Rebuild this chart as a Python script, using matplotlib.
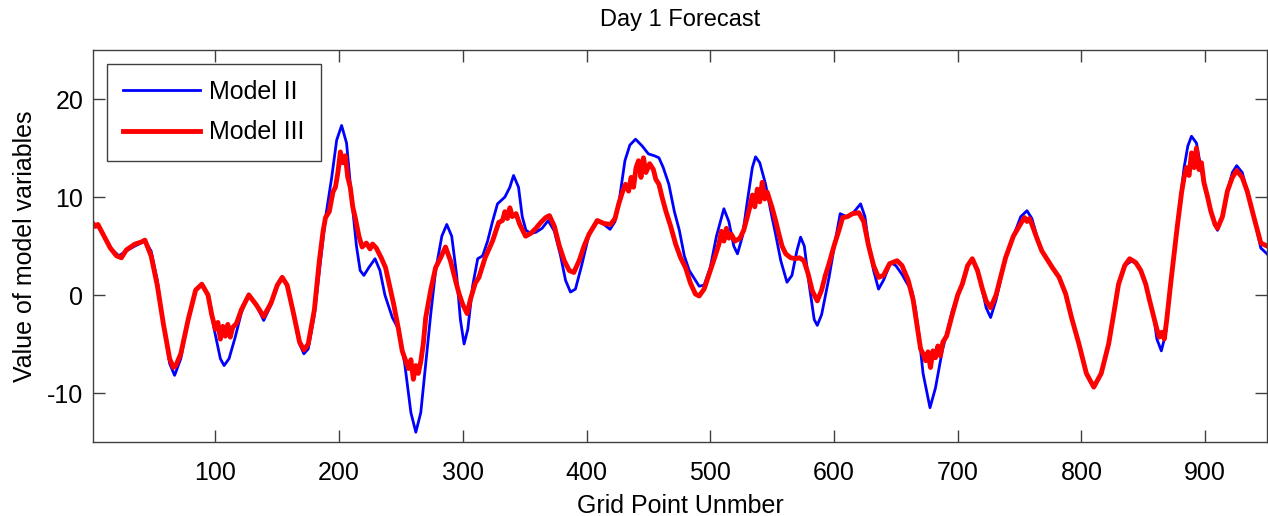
import matplotlib
matplotlib.use("Agg")
import matplotlib.pyplot as plt

plt.rcParams['font.family'] = ['Liberation Sans', 'DejaVu Sans']
plt.rcParams['axes.unicode_minus'] = False

# Model II (smooth)
x2 = [1, 5, 10, 15, 22, 28, 35, 43, 48, 53, 58, 63, 67, 72, 78, 84, 89, 94, 99, 104,
      107, 111, 116, 121, 127, 133, 139, 145, 150, 154, 158, 163, 168, 171.5, 175, 180,
      185, 189, 194, 198, 202, 206, 210, 214, 217, 220, 224, 229, 233, 237, 243, 248,
      253, 258, 262, 266, 270, 274, 278, 283, 287, 291, 295, 298, 301, 304, 308, 312,
      316, 320, 324, 328, 334, 338, 341, 345, 348, 351, 355, 359, 364, 369, 374, 379,
      383, 387, 391, 396, 402, 408, 414, 419, 423, 426, 431, 435, 439.6, 445, 450, 455,
      458.5, 462, 466.5, 471, 475, 479, 483, 488, 491, 495, 500, 505, 511, 515, 519,
      522, 526, 530, 534, 536.6, 540, 544.7, 549, 552.8, 557, 562, 566, 570, 573, 576,
      580, 584, 586.5, 590, 596, 601, 605, 610, 615, 621.5, 625, 628, 632, 636, 640,
      645.8, 650, 655, 659, 663, 666, 668.6, 672, 677.6, 682, 687.5, 692, 695.6, 700,
      703.7, 708, 711.8, 716, 720, 723, 726.6, 731, 738.7, 745, 751, 756, 760, 764,
      768, 776.5, 782, 787.3, 792, 798, 804, 810, 816, 822, 826, 830, 835, 841, 846,
      850.5, 855, 858.6, 861, 864.6, 868, 872, 877.5, 883, 886, 889, 893, 899, 904.5,
      910, 914, 918, 922, 925.5, 930, 934, 939.5, 945, 950]
y2 = [7.2, 7.0, 6.0, 4.8, 4.0, 4.5, 5.0, 5.5, 4.5, 1.5, -3.0, -7.0, -8.2, -6.5, -2.5, 0.5,
      1.1, 0.0, -3.5, -6.5, -7.2, -6.5, -4.3, -1.8, 0.1, -1.0, -2.6, -1.0, 1.0, 1.8, 1.0,
      -2.0, -5.0, -6.0, -5.5, -2.0, 3.5, 7.9, 12.0, 15.8, 17.3, 15.5, 10.0, 5.0, 2.5,
      2.0, 2.8, 3.7, 2.5, 0.0, -2.3, -3.5, -7.0, -12.0, -14.0, -12.0, -7.0, -2.0, 2.5,
      6.0, 7.2, 6.0, 2.0, -2.5, -5.0, -3.5, 1.0, 3.7, 4.0, 5.5, 7.5, 9.3, 10.0, 11.0,
      12.2, 11.0, 8.0, 6.6, 6.3, 6.4, 6.8, 7.6, 6.5, 4.0, 1.5, 0.3, 0.6, 3.0, 6.2, 7.6,
      7.2, 6.7, 7.5, 9.3, 13.7, 15.3, 15.9, 15.2, 14.4, 14.2, 14.0, 13.0, 11.3, 8.5,
      6.6, 4.0, 2.5, 1.5, 0.9, 1.0, 2.8, 6.0, 8.8, 7.5, 5.0, 4.2, 6.0, 9.6, 13.0, 14.1,
      13.5, 11.3, 8.5, 6.2, 3.5, 1.3, 2.0, 4.5, 5.9, 5.0, 1.0, -2.5, -3.1, -2.0, 1.8,
      5.5, 8.3, 8.0, 8.3, 9.3, 8.0, 5.2, 2.5, 0.6, 1.5, 3.3, 3.0, 2.1, 1.2, 0.4, -1.5,
      -4.0, -8.0, -11.5, -9.5, -5.7, -3.5, -1.6, 0.0, 1.1, 3.0, 3.7, 2.5, 0.4, -1.3,
      -2.3, -0.5, 3.8, 6.0, 8.0, 8.6, 7.8, 6.0, 4.5, 2.8, 1.8, 0.1, -2.3, -5.0, -8.0,
      -9.4, -8.0, -5.0, -2.0, 1.1, 3.0, 3.5, 3.0, 1.8, -0.5, -2.3, -4.5, -5.7, -4.0,
      1.1, 7.2, 13.0, 15.2, 16.2, 15.5, 11.3, 8.6, 6.6, 8.0, 10.6, 12.5, 13.2, 12.5,
      10.6, 7.9, 4.8, 4.2]

# Model III (noisy)
x3 = [1, 3, 5, 10, 15, 20, 24, 28, 35, 40, 43, 48, 53, 58, 63, 66, 68, 72, 78, 84, 89,
      94, 97, 100, 102, 104, 106, 108, 110, 112, 114, 117, 121, 127, 133, 139, 145, 150,
      154, 158, 163, 168, 171.5, 175, 180, 184, 187, 189, 192, 195, 197, 199, 201, 203,
      205, 207, 209, 211, 213, 216, 218.6, 222, 225, 227, 230, 234, 237.5, 241, 244,
      248, 251, 254, 256, 258, 260, 262, 264, 266, 268, 270, 274, 278, 282, 286, 290,
      294, 297, 300, 303.5, 306, 310, 313, 318, 324, 329, 332, 334, 336, 338, 340, 343,
      346, 350.7, 355, 359, 363, 367, 370, 374, 378, 382, 386, 389.7, 394, 398, 402,
      408.7, 414, 419.4, 423, 426, 429, 431.5, 434, 436, 438, 440, 442, 444, 446, 448,
      451, 454, 456, 458.5, 461, 464, 468, 472, 476, 480, 484, 488, 491, 495, 500, 504,
      507, 509, 511, 513, 515, 517, 520, 524, 527, 530, 532, 534, 536, 538, 540, 542,
      544, 546, 550, 553, 555.5, 558, 561, 565, 569, 572, 575.7, 579, 582.5, 586.5, 590,
      593, 596, 600, 604, 607, 611, 615, 620, 624, 628, 632, 636, 640, 645, 651, 655,
      660, 664, 667, 670, 672, 674, 676, 678, 680, 682, 684, 686, 688, 691, 695.6, 700,
      703.7, 708, 711.8, 716, 720, 723, 726.6, 731, 738.7, 745, 751, 754, 756, 758, 760,
      764, 768, 776.5, 782, 787.3, 792, 798, 804, 810, 816, 822, 826, 830, 835, 839,
      844, 848, 852, 855, 858.6, 861, 863, 865, 867, 869, 872, 877.5, 881, 883, 885,
      887, 889, 891, 893, 895, 897, 899, 902, 904.5, 908, 910, 914, 918, 922, 925.5,
      930, 934, 939.5, 945, 950]
y3 = [7.3, 7.0, 7.2, 6.0, 4.8, 4.0, 3.8, 4.6, 5.2, 5.4, 5.6, 4.0, 1.0, -3.0, -6.5, -7.4,
      -7.2, -6.0, -2.5, 0.5, 1.1, 0.0, -2.0, -3.5, -2.8, -4.5, -3.2, -4.2, -3.0, -4.3,
      -3.3, -2.9, -1.5, 0.0, -1.0, -2.2, -0.8, 1.0, 1.8, 1.0, -1.8, -4.8, -5.6, -5.0,
      -1.5, 3.5, 6.5, 7.9, 8.5, 10.5, 11.0, 12.5, 14.6, 13.5, 14.2, 12.0, 11.0, 9.0,
      7.9, 6.0, 4.9, 5.3, 4.7, 5.2, 4.8, 3.8, 2.8, 0.8, -0.9, -3.5, -5.7, -6.8, -7.5,
      -6.6, -8.6, -7.2, -8.0, -6.8, -5.0, -2.3, 0.5, 2.8, 3.8, 4.9, 3.5, 1.5, 0.1, -1.0,
      -1.9, -0.5, 1.2, 1.8, 3.8, 5.5, 7.4, 7.6, 8.5, 7.8, 8.9, 8.0, 8.3, 7.2, 6.0, 6.3,
      6.8, 7.4, 7.9, 8.1, 7.0, 5.0, 3.5, 2.5, 2.3, 3.5, 5.0, 6.2, 7.6, 7.3, 7.2, 7.8,
      9.3, 10.5, 11.3, 10.6, 12.0, 11.0, 13.0, 13.7, 12.0, 14.0, 12.5, 13.4, 12.8, 11.8,
      11.3, 10.0, 8.6, 7.0, 5.2, 3.8, 2.8, 1.2, 0.1, -0.1, 0.6, 2.5, 4.0, 5.2, 6.5, 5.5,
      6.8, 5.8, 6.2, 5.5, 5.8, 6.6, 8.0, 9.0, 10.2, 9.0, 10.8, 9.5, 11.5, 9.8, 10.5, 8.9,
      7.5, 6.2, 5.0, 4.2, 3.8, 3.7, 3.8, 3.5, 2.2, 0.4, -0.6, 0.5, 2.0, 3.2, 5.0, 6.6,
      7.9, 8.0, 8.3, 8.4, 7.5, 5.0, 3.0, 1.8, 2.0, 3.2, 3.5, 3.0, 1.5, -0.5, -3.0, -5.5,
      -6.0, -6.7, -5.8, -7.4, -5.7, -6.4, -5.2, -6.2, -4.8, -4.2, -2.0, 0.0, 1.1, 3.0,
      3.7, 2.5, 0.6, -0.6, -1.3, 0.0, 3.8, 6.0, 7.3, 7.9, 7.5, 7.8, 7.2, 5.8, 4.5, 2.8,
      1.8, 0.1, -2.3, -5.0, -8.0, -9.4, -8.0, -5.0, -2.0, 1.1, 3.0, 3.7, 3.3, 2.5, 1.1,
      -0.5, -2.3, -3.5, -4.3, -3.8, -4.5, -2.5, 1.0, 7.0, 10.5, 12.0, 13.0, 12.2, 14.5,
      13.0, 15.0, 12.8, 13.5, 11.5, 10.0, 8.6, 7.2, 6.8, 8.0, 10.6, 12.0, 12.7, 12.0,
      10.6, 7.9, 5.3, 5.0]

fig = plt.figure(figsize=(12.68, 5.16), dpi=100)
ax = fig.add_axes([0.0733, 0.1434, 0.9259, 0.7597])

ax.plot(x2, y2, color='#0000ff', lw=2.0, label='Model II')
ax.plot(x3, y3, color='#ff0000', lw=3.5, label='Model III')

ax.set_xlim(1, 950)
ax.set_ylim(-15, 25)
ax.set_xticks([100, 200, 300, 400, 500, 600, 700, 800, 900])
ax.set_yticks([-10, 0, 10, 20])
ax.tick_params(direction='in', length=8.5, width=1.0, color='#404040',
               top=True, right=True, labelsize=18)
ax.tick_params(axis='x', pad=14)
ax.tick_params(axis='y', pad=7)
for s in ax.spines.values():
    s.set_color('#404040')
    s.set_linewidth(1.0)

ax.set_title('Day 1 Forecast', fontsize=17, pad=17)
ax.set_xlabel('Grid Point Unmber', fontsize=18, labelpad=6)
ax.set_ylabel('Value of model variables', fontsize=18, labelpad=7)

leg = ax.legend(loc='upper left', fontsize=18, fancybox=False, framealpha=1,
                edgecolor='#404040', borderaxespad=0.55, borderpad=0.65,
                handlelength=3.1, handletextpad=0.35, labelspacing=0.65)
leg.get_frame().set_linewidth(1.0)

plt.savefig('out.png', dpi=100)
